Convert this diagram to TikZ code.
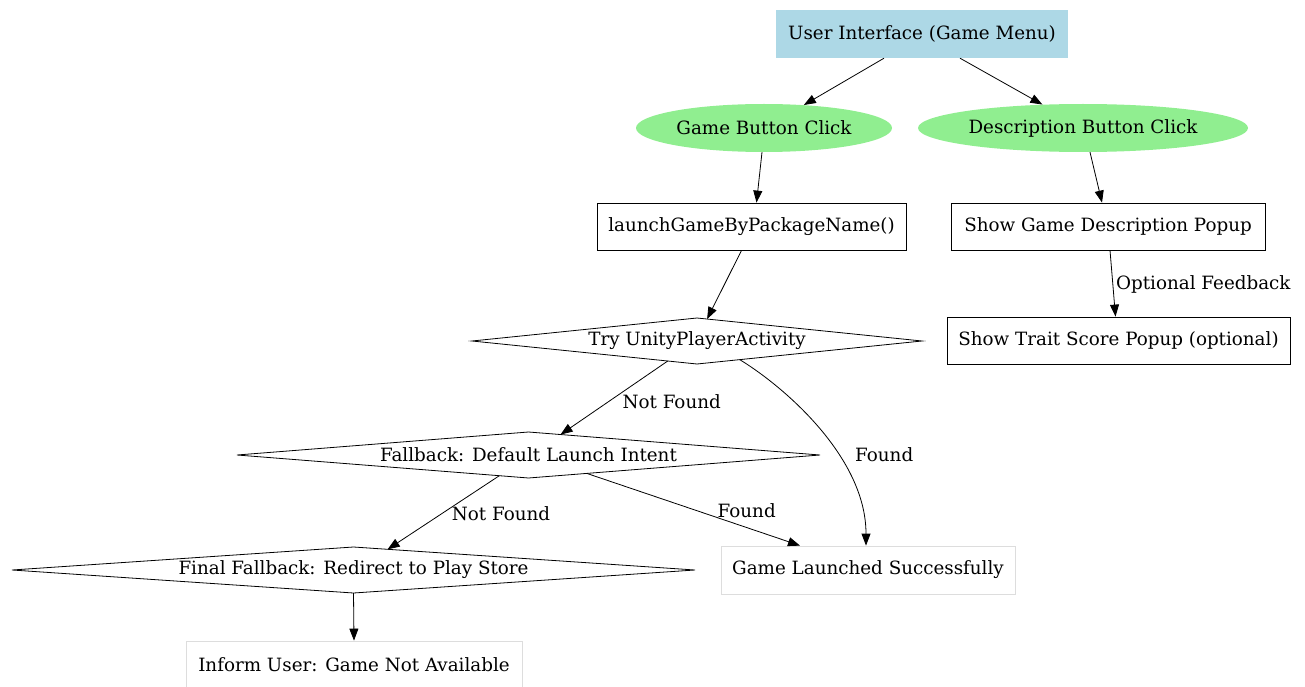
\documentclass[tikz,border=0pt]{standalone}
\usepackage{fontspec}
\setmainfont{DejaVu Serif}
\usetikzlibrary{arrows.meta,calc,shapes.geometric}
\definecolor{uiblue}{HTML}{ADD8E6}
\definecolor{btngreen}{HTML}{90EE90}
\definecolor{softgray}{HTML}{DDDDDD}
\begin{document}
\begin{tikzpicture}[x=1pt,y=-1pt,
  every node/.style={font=\fontsize{18.3}{21}\selectfont, inner sep=0pt},
  box/.style={draw, rectangle, line width=0.8pt, minimum height=47pt},
  softbox/.style={draw=softgray, rectangle, line width=0.8pt, minimum height=48pt},
  btn/.style={ellipse, fill=btngreen, minimum height=48pt},
  decline/.style={draw, line width=0.8pt, line join=miter},
  conn/.style={draw, line width=0.8pt, -{Triangle[length=12pt,width=9pt]}},
  lbl/.style={inner sep=0pt}]
\useasboundingbox (0,0) rectangle (1305,687);
\node[rectangle, fill=uiblue, minimum width=292pt, minimum height=48pt] (ui) at (922,34) {User Interface (Game Menu)};
\node[btn, minimum width=256pt] (gb) at (764,128) {Game Button Click};
\node[btn, minimum width=330pt] (db) at (1083,128) {Description Button Click};
\node[box, minimum width=309pt] (launch) at (751.5,226.5) {launchGameByPackageName()};
\node[box, minimum width=314pt] (sgd) at (1108,226.5) {Show Game Description Popup};
\node[box, minimum width=343pt] (trait) at (1118.5,340.5) {Show Trait Score Popup (optional)};
% decision nodes (diamonds drawn from named corner coordinates)
\node (try) at (697,341) {Try UnityPlayerActivity};
\coordinate (try-n) at (697,318); \coordinate (try-s) at (697,364);
\coordinate (try-w) at (472,341); \coordinate (try-e) at (922,341);
\draw[decline] (try-n) -- (try-e) -- (try-s) -- (try-w) -- cycle;
\node (fb) at (528.5,455) {Fallback: Default Launch Intent};
\coordinate (fb-n) at (528.5,432); \coordinate (fb-s) at (528.5,478);
\coordinate (fb-w) at (237,455); \coordinate (fb-e) at (820,455);
\draw[decline] (fb-n) -- (fb-e) -- (fb-s) -- (fb-w) -- cycle;
\node (final) at (353.5,570) {Final Fallback: Redirect to Play Store};
\coordinate (final-n) at (353.5,547); \coordinate (final-s) at (353.5,593);
\coordinate (final-w) at (12,570); \coordinate (final-e) at (695,570);
\draw[decline] (final-n) -- (final-e) -- (final-s) -- (final-w) -- cycle;
\node[softbox, minimum width=294pt] (game) at (868,570) {Game Launched Successfully};
\node[softbox, minimum width=336pt] (inform) at (354,665) {Inform User: Game Not Available};
% connectors
\draw[conn] ($(ui.south)+(-38,0)$) -- (gb.30);
\draw[conn] ($(ui.south)+(38,0)$) -- (db.150);
\draw[conn] ($(gb.south)+(-2,0)$) -- ($(launch.north)+(5,0)$);
\draw[conn] ($(db.south)+(7,0)$) -- ($(sgd.north)+(-6,0)$);
\draw[conn] ($(sgd.south)+(2,0)$) -- node[lbl, anchor=west, xshift=3pt, yshift=-1pt] {Optional Feedback} ($(trait.north)+(-3,0)$);
\draw[conn] ($(launch.south)+(-10,0)$) -- ($(try-n)!0.045!(try-e)$);
\draw[conn] ($(try-s)!0.13!(try-w)$) -- node[lbl, anchor=west, xshift=8pt, yshift=-4pt] {Not Found} ($(fb-n)!0.11!(fb-e)$);
\draw[conn] ($(try-s)!0.19!(try-e)$) .. controls (786,388) and (866,458) .. ($(game.north)+(-2,0)$);
\node[lbl, anchor=west] (foundlbl) at (855,455) {Found};
\draw[conn] ($(fb-s)!0.1!(fb-w)$) -- node[lbl, anchor=west, xshift=8pt, yshift=-1pt] {Not Found} ($(final-n)!0.1!(final-e)$);
\draw[conn] ($(fb-s)!0.2!(fb-e)$) -- node[lbl, pos=0.75, anchor=south, yshift=9pt] {Found} ($(game.north)+(-68,0)$);
\draw[conn] (final-s) -- (inform.north);
\end{tikzpicture}
\end{document}
